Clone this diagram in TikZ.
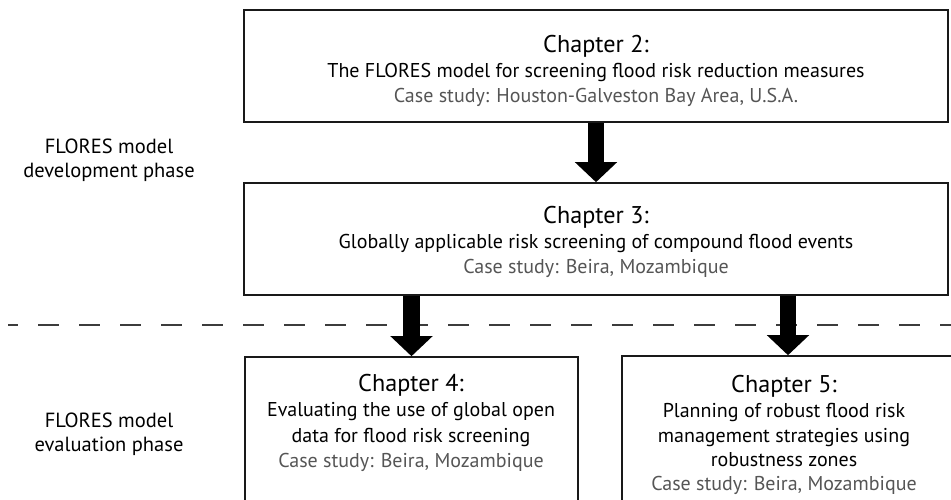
\documentclass[tikz,border=0pt]{standalone}
\usepackage{fontspec}
\setmainfont{PT Sans}
\usetikzlibrary{arrows.meta}
\definecolor{casegray}{RGB}{85,85,85}
\definecolor{dashgray}{RGB}{60,60,60}
\tikzset{
  chbox/.style={draw=black!90, line width=1.6pt, rectangle, inner sep=0pt},
  headtxt/.style={anchor=base, inner sep=0pt, font=\fontsize{24.2}{28}\selectfont},
  bodytxt/.style={anchor=base, inner sep=0pt, font=\fontsize{20}{24}\selectfont},
  casetxt/.style={anchor=base, inner sep=0pt, text=casegray, font=\fontsize{20}{24}\selectfont},
  sidetxt/.style={anchor=base, inner sep=0pt, font=\fontsize{20.5}{24}\selectfont},
  blockarrow/.style={line width=16.5pt, -{Triangle[width=41pt,length=20pt]}},
  phaseline/.style={draw=dashgray, line width=1.8pt, dash pattern=on 21pt off 20pt, dash phase=11pt}
}
\begin{document}
\begin{tikzpicture}[x=1pt,y=-1pt]
\useasboundingbox (0,0) rectangle (951,499);
\clip (0,0) rectangle (951,499);
% boxes
\node[chbox, minimum width=704pt, minimum height=112pt] (c2) at (596,66) {};
\node[chbox, minimum width=704pt, minimum height=112pt] (c3) at (596,239) {};
\node[chbox, minimum width=333pt, minimum height=158pt] (c4) at (411.5,436) {};
\node[chbox, minimum width=332pt, minimum height=159pt] (c5) at (788,435.5) {};
% dashed phase separator
\coordinate (dl) at (8,325);
\coordinate (dr) at (960,325);
\draw[phaseline] (dl) -- (dr);
% texts chapter 2
\node[headtxt] (t2a) at (596,52) {Chapter 2:};
\node[bodytxt] (t2b) at (596,77) {The FLORES model for screening flood risk reduction measures};
\node[casetxt] (t2c) at (596,102) {Case study: Houston-Galveston Bay Area, U.S.A.};
% chapter 3
\node[headtxt] (t3a) at (596,223) {Chapter 3:};
\node[bodytxt] (t3b) at (596,248) {Globally applicable risk screening of compound flood events};
\node[casetxt] (t3c) at (596,273) {Case study: Beira, Mozambique};
% chapter 4
\node[headtxt] (t4a) at (411,391) {Chapter 4:};
\node[bodytxt] (t4b) at (411,416) {Evaluating the use of global open};
\node[bodytxt] (t4c) at (411,442) {data for flood risk screening};
\node[casetxt] (t4d) at (411,467) {Case study: Beira, Mozambique};
% chapter 5
\node[headtxt] (t5a) at (784,392) {Chapter 5:};
\node[bodytxt] (t5b) at (784,417) {Planning of robust flood risk};
\node[bodytxt] (t5c) at (784,442) {management strategies using};
\node[bodytxt] (t5d) at (784,466) {robustness zones};
\node[casetxt] (t5e) at (784,490) {Case study: Beira, Mozambique};
% side labels
\node[sidetxt] (s1a) at (109,153) {FLORES model};
\node[sidetxt] (s1b) at (109,177) {development phase};
\node[sidetxt] (s2a) at (109,427) {FLORES model};
\node[sidetxt] (s2b) at (109,451) {evaluation phase};
% arrows
\draw[blockarrow] (c2.south) -- (c3.north);
\draw[blockarrow] (c3.south -| c4.north) -- (c4.north);
\draw[blockarrow] (c3.south -| c5.north) -- (c5.north);
\end{tikzpicture}
\end{document}
